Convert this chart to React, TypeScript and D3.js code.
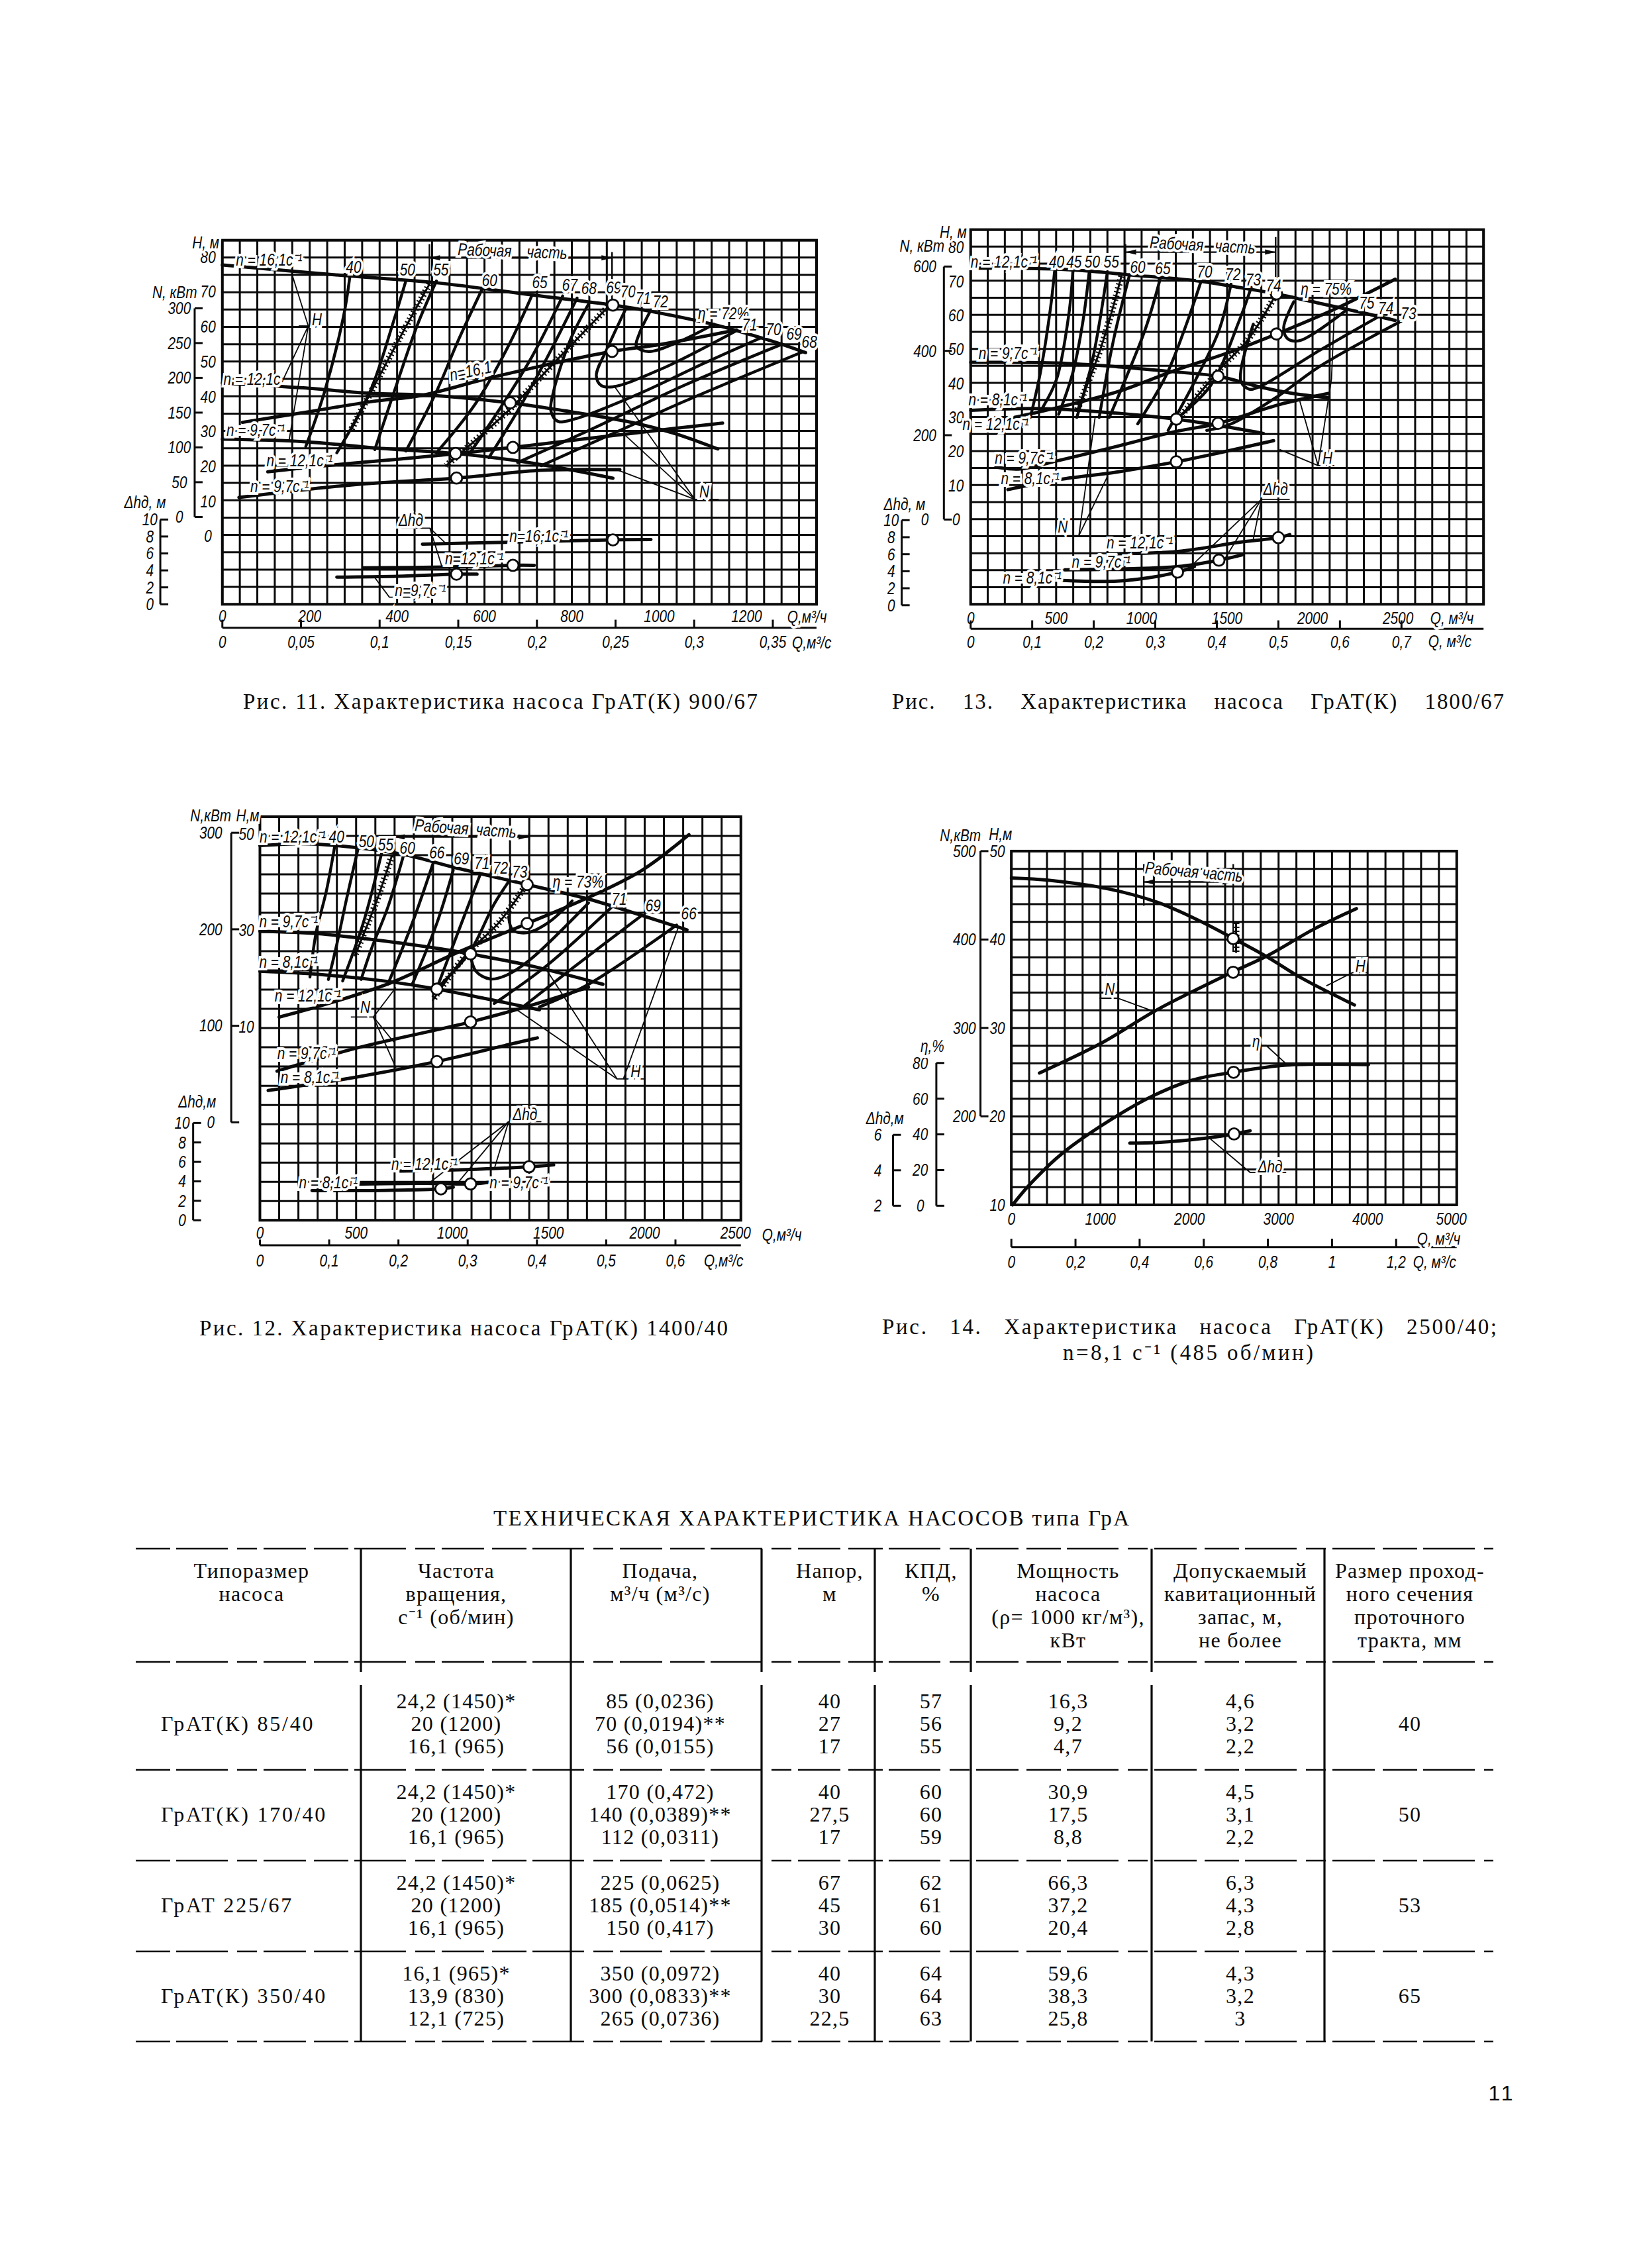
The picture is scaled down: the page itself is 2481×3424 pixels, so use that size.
import React from 'react';
import * as d3 from 'd3';

type Pt = [number, number];
type Lbl = [string, number, number, number?];

const INK = '#0a0a0a';
const CHART_FONT = '"Liberation Sans", sans-serif';
const BOOK_FONT = '"Liberation Serif", serif';

// ---- Рис. 11, ГрАТ(К) 900/67: Q м3/ч against H, N, Δh
const fig11Head: Pt[][] = [
  [[0, 77.7], [294, 74.5], [490, 72.6], [709, 69.1], [894, 66.2], [981, 64.4], [1123, 60.7], [1177, 58.9], [1275, 55.2], [1335, 52.6]],
  [[0, 43.9], [185, 42.5], [343, 40.9], [458, 40.5], [659, 38.2], [785, 35.9], [937, 32.6], [1036, 29.4], [1134, 25]],
  [[0, 27.8], [185, 27.1], [349, 25.3], [534, 23.7], [676, 21.6], [785, 19.3], [894, 16.6]],
];
const fig11Power: Pt[][] = [
  [[46, 136], [185, 150], [343, 166], [458, 175], [600, 198], [730, 217], [892, 238], [1003, 248], [1177, 269]],
  [[104, 65], [240, 74], [403, 83], [534, 91], [665, 100], [839, 113], [1003, 125], [1145, 135]],
  [[38, 28], [294, 46], [536, 56], [730, 67], [910, 68]],
];
const fig11Npsh: Pt[][] = [
  [[458, 7.1], [676, 7.35], [894, 7.6], [981, 7.65]],
  [[322, 4.3], [512, 4.4], [665, 4.6], [714, 4.6]],
  [[262, 3.2], [403, 3.3], [536, 3.55], [583, 3.55]],
];
const fig11Eta: Pt[][] = [
  [[292, 74.5], [278, 63.4], [234, 41.4], [191, 25.7]],
  [[420, 73.1], [392, 61.6], [338, 41.4], [262, 23.9]],
  [[490, 73.1], [447, 60.7], [403, 45], [349, 24.8]],
  [[600, 72.2], [540, 56.1], [490, 41.4], [420, 24.4]],
  [[709, 69.1], [654, 54.3], [578, 37.7], [490, 23.9]],
  [[779, 68.8], [709, 51.5], [632, 35.9], [567, 23.9]],
  [[812, 68.2], [741, 50.6], [676, 35.9], [610, 22.5]],
  [[839, 66.7], [796, 56.1], [758, 41.4], [752, 35.9], [768, 32.9], [807, 33.6], [948, 40.5], [1112, 50.1], [1232, 56.8]],
  [[924, 65.3], [883, 54.3], [856, 46], [867, 43.2], [894, 42.8], [1003, 47.8], [1177, 58.9]],
  [[981, 64.8], [954, 57.9], [948, 54.3], [976, 52.9], [1036, 55.2], [1125, 60.7]],
  [[1281, 55], [1057, 43.2], [839, 30.3], [676, 21.1]],
  [[1330, 52.9], [1057, 38.6], [894, 29.4], [730, 20.2]],
];
const fig11Limits: Pt[][] = [
  [[474, 72.2], [403, 56.1], [294, 30.3]],
  [[883, 65.7], [752, 48.7], [654, 35.9], [512, 20.2]],
];
const fig11Duty = {
  head: [[894, 66.2], [659, 38.2], [534, 23.7]] as Pt[],
  power: [[892, 238], [665, 100], [536, 56]] as Pt[],
  npsh: [[894, 7.6], [665, 4.6], [536, 3.55]] as Pt[],
};
const fig11Labels: Lbl[] = [
  ['n = 16,1с⁻¹', 328, 148], ['40', 505, 172], ['50', 618, 180], ['55', 688, 180], ['60', 790, 212], ['65', 895, 220],
  ['67', 958, 228], ['68', 998, 238], ['69', 1050, 235], ['70', 1080, 248], ['71', 1112, 268], ['72', 1148, 278],
  ['η = 72%', 1280, 315], ['71', 1335, 352], ['70', 1385, 365], ['69', 1428, 380], ['68', 1460, 405], ['H', 428, 335],
  ['n = 12,1с', 292, 520], ['n=16,1', 750, 495, -12], ['n = 9,7с⁻¹', 300, 680], ['n = 12,1с⁻¹', 392, 775], ['n = 9,7с⁻¹', 350, 855],
  ['N', 1240, 870], ['Δhд', 625, 960], ['n=16,1с⁻¹', 893, 1010], ['n=12,1с⁻¹', 758, 1080], ['n=9,7с⁻¹', 645, 1178],
  ['H, м', 195, 95], ['N, кВт', 130, 250], ['Δhд, м', 68, 905], ['Рабочая    часть', 838, 122, 2],
  ['Q,м³/ч', 1455, 1260], ['Q,м³/с', 1465, 1342],
];
const fig11Leaders: Pt[][] = [
  [[375, 190], [410, 355], [370, 710]], [[390, 355], [410, 355]], [[410, 355], [355, 530]],
  [[1270, 895], [1220, 895], [1050, 540]], [[1220, 895], [1070, 690]], [[1220, 895], [1060, 805]],
  [[605, 985], [665, 985], [700, 1035]], [[665, 985], [690, 1105]], [[550, 1140], [580, 1200], [670, 1200]],
];

// ---- Рис. 13, ГрАТ(К) 1800/67
const fig13Head: Pt[][] = [
  [[0, 73.9], [503, 73.6], [716, 72.9], [906, 72], [1333, 70.1], [1570, 68.2], [1789, 66.3], [2045, 63.5], [2282, 60.9], [2483, 58.5]],
  [[0, 46.2], [503, 46], [859, 44.9], [1191, 43.4], [1447, 42.1], [1689, 39], [1879, 37.1], [2092, 35.8]],
  [[0, 32.1], [384, 32.6], [740, 31.7], [1203, 29.5], [1452, 27.6], [1713, 25.3]],
];
const fig13Power: Pt[][] = [
  [[254, 242], [503, 265], [859, 303], [1191, 353], [1523, 398], [1789, 440], [2140, 501], [2483, 570]],
  [[147, 124], [289, 120], [503, 139], [859, 174], [1191, 208], [1447, 228], [1808, 273], [2092, 299]],
  [[218, 71], [503, 94], [859, 113], [1203, 137], [1452, 158], [1772, 187]],
];
const fig13Npsh: Pt[][] = [
  [[859, 6.06], [1214, 6.33], [1570, 7.39], [1800, 7.95], [1867, 8.3]],
  [[550, 4.17], [906, 4.28], [1214, 4.55], [1452, 5.3], [1594, 5.95]],
  [[538, 2.92], [859, 2.84], [1096, 3.41], [1210, 3.9], [1309, 4.55]],
];
const fig13Eta: Pt[][] = [
  [[491, 72.9], [467, 62.1], [408, 43.2], [349, 30]],
  [[598, 72.9], [574, 60.2], [503, 41.3], [420, 32.8]],
  [[693, 72.5], [657, 58.3], [598, 43.2], [515, 30.9]],
  [[799, 72.5], [752, 57.4], [705, 45.1], [621, 30]],
  [[930, 72], [835, 52.6], [752, 30]],
  [[1108, 70.6], [1025, 56.4], [906, 41.3], [811, 30]],
  [[1345, 69.6], [1262, 57.4], [1143, 42.3], [977, 28.1]],
  [[1523, 69.2], [1452, 55.5], [1309, 40.4], [1155, 26.2]],
  [[1641, 68.2], [1570, 58.3], [1404, 39.4], [1214, 30]],
  [[1890, 64], [1831, 56.4], [1855, 53.1], [1926, 52.6], [2199, 61.6]],
  [[1653, 57.4], [1582, 44.2], [1582, 40.4], [1630, 38.3], [1689, 39], [2045, 49.8], [2389, 59.7]],
  [[2519, 58.3], [2045, 45.1], [1808, 36.6], [1523, 28.1], [1381, 26.2]],
];
const fig13Limits: Pt[][] = [
  [[882, 71.5], [764, 50.8], [621, 31.9]],
  [[1772, 64.9], [1618, 52.6], [1475, 45.1], [1238, 30.9]],
];
const fig13Duty = {
  head: [[1789, 66.3], [1447, 42.1], [1203, 29.5]] as Pt[],
  power: [[1789, 440], [1447, 228], [1203, 137]] as Pt[],
  npsh: [[1800, 7.95], [1452, 5.3], [1210, 3.9]] as Pt[],
};
const fig13Labels: Lbl[] = [
  ['H, м', 195, 62], ['N, кВт', 118, 105], ['n = 12,1с⁻¹', 320, 155], ['40', 450, 155], ['45', 493, 155], ['50', 538, 155], ['55', 585, 155],
  ['60', 650, 172], ['65', 712, 175], ['70', 815, 185], ['72', 885, 195], ['73', 935, 210], ['74', 985, 230], ['η = 75%', 1115, 240],
  ['75', 1215, 282], ['74', 1262, 300], ['73', 1318, 315], ['n = 9,7с⁻¹', 330, 440], ['n = 8,1с⁻¹', 305, 585], ['n = 12,1с⁻¹', 300, 660],
  ['n = 9,7с⁻¹', 370, 765], ['n = 8,1с⁻¹', 385, 830], ['N', 465, 980], ['H', 1118, 765], ['Δhд', 990, 862], ['n = 12,1с⁻¹', 655, 1030],
  ['n = 9,7с⁻¹', 560, 1090], ['n = 8,1с⁻¹', 390, 1140], ['Δhд, м', 75, 910], ['Рабочая   часть', 810, 103, 3],
  ['Q, м³/ч', 1425, 1265], ['Q, м³/с', 1420, 1338],
];
const fig13Leaders: Pt[][] = [
  [[1135, 790], [1095, 790], [1128, 520], [1135, 310]], [[1095, 790], [1050, 590]], [[1095, 790], [1000, 740]],
  [[450, 1008], [505, 1008], [545, 640]], [[505, 1008], [575, 825]],
  [[1025, 895], [955, 895], [780, 1105]], [[955, 895], [865, 1080]], [[955, 895], [935, 1020]],
];

// ---- Рис. 12, ГрАТ(К) 1400/40
const fig12Head: Pt[][] = [
  [[0, 47.6], [217, 48], [398, 47.6], [739, 45.8], [1027, 42.9], [1389, 39.5], [1708, 36.5], [1985, 33.1], [2220, 30.1]],
  [[0, 29.8], [302, 29.3], [643, 27.8], [1027, 25.6], [1095, 25.1], [1389, 22.8], [1783, 18.8]],
  [[0, 21.5], [324, 20.8], [643, 19.5], [920, 17.8], [1176, 15.8], [1453, 13.5]],
];
const fig12Power: Pt[][] = [
  [[100, 109], [388, 125], [686, 145], [1027, 176], [1389, 206], [1708, 233], [1985, 261], [2230, 298]],
  [[89, 53], [494, 76.5], [1095, 104], [1389, 120], [1708, 140]],
  [[43, 33], [494, 46.6], [920, 63], [1282, 80], [1442, 87.5]],
];
const fig12Npsh: Pt[][] = [
  [[728, 5.05], [1069, 5.2], [1399, 5.5], [1527, 5.7]],
  [[473, 3.7], [856, 3.8], [1095, 3.73], [1186, 3.9]],
  [[271, 3.04], [643, 3.07], [941, 3.23], [1005, 3.4]],
];
const fig12Eta: Pt[][] = [
  [[388, 47.3], [345, 38.1], [292, 29.5], [260, 20.3]],
  [[509, 46.8], [452, 36.8], [398, 26.8], [356, 19.8]],
  [[633, 46.1], [537, 31.5], [430, 19.5]],
  [[746, 45.5], [665, 34.8], [579, 26.1], [526, 19.8]],
  [[899, 43.8], [792, 31.5], [665, 18.8]],
  [[1005, 42.5], [920, 31.5], [792, 18.8]],
  [[1144, 41.5], [1048, 31.5], [920, 18]],
  [[1293, 40.1], [1218, 35.5], [1091, 25.5], [941, 18.8]],
  [[1293, 32.8], [1314, 30.1], [1389, 29.5], [1495, 31.5], [1623, 36.1]],
  [[1095, 24.8], [1123, 21.5], [1197, 19.9], [1282, 20.7], [1410, 24.1], [1708, 35.7]],
  [[1836, 35.1], [1495, 22.8], [1218, 14.8]],
  [[1985, 33.1], [1623, 22.1], [1367, 14.1]],
  [[2166, 31.1], [1708, 18.8], [1453, 14.1]],
];
const fig12Limits: Pt[][] = [
  [[686, 45.5], [601, 35.5], [494, 24.8]],
  [[1378, 39.1], [1240, 31.5], [1069, 24.8], [899, 15.5]],
];
const fig12Duty = {
  head: [[1389, 39.5], [1095, 25.1], [920, 17.8]] as Pt[],
  power: [[1389, 206], [1095, 104], [920, 63]] as Pt[],
  npsh: [[1399, 5.5], [1095, 3.73], [941, 3.23]] as Pt[],
};
const fig12Labels: Lbl[] = [
  ['N,кВт', 78, 65], ['H,м', 168, 65], ['n = 12,1с⁻¹', 278, 130], ['40', 385, 130], ['50', 458, 145], ['55', 505, 155], ['60', 558, 165],
  ['66', 630, 180], ['69', 690, 198], ['71', 740, 212], ['72', 785, 228], ['73', 832, 240], ['η = 73%', 975, 270], ['71', 1075, 325],
  ['69', 1158, 345], ['66', 1245, 370], ['n = 9,7с⁻¹', 268, 395], ['n = 8,1с⁻¹', 268, 520], ['n = 12,1с⁻¹', 315, 625], ['N', 455, 660],
  ['n = 9,7с⁻¹', 312, 805], ['n = 8,1с⁻¹', 320, 880], ['H', 1115, 860], ['Δhд', 845, 995], ['n = 12,1с⁻¹', 600, 1150], ['n = 8,1с⁻¹', 365, 1207],
  ['n = 9,7с⁻¹', 830, 1207], ['Δhд,м', 45, 955], ['Рабочая  часть', 700, 105, 4],
  ['Q,м³/ч', 1472, 1370], ['Q,м³/с', 1330, 1450],
];
const fig12Leaders: Pt[][] = [
  [[1135, 885], [1070, 885], [895, 540]], [[1070, 885], [820, 665]], [[1085, 885], [1220, 410]],
  [[420, 692], [475, 692], [530, 600]], [[475, 692], [530, 850]], [[475, 692], [525, 770]],
  [[885, 1018], [805, 1018], [610, 1210]], [[805, 1018], [680, 1210]], [[805, 1018], [770, 1165]],
];

// ---- Рис. 14, ГрАТ(К) 2500/40, n = 8,1
const fig14Head: Pt[][] = [
  [[0, 46.96], [428, 46.7], [1104, 45.7], [1644, 44.2], [2095, 42.2], [2478, 40.2], [2861, 38.1], [3266, 35.6], [3852, 32.6]],
];
const fig14Power: Pt[][] = [
  [[315, 249], [1014, 283], [1644, 321], [2478, 363], [2861, 381], [3401, 412], [3874, 435]],
];
const fig14Eff: Pt[][] = [
  [[14, 0.5], [203, 11.7], [563, 29], [1194, 50.6], [1599, 61.8], [2036, 70.5], [2491, 74.8], [3086, 78.8], [4010, 79.1]],
];
const fig14Npsh: Pt[][] = [
  [[1329, 5.53], [1644, 5.57], [2230, 5.84], [2500, 6.05], [2680, 6.23]],
];
const fig14Limits: Pt[][] = [[[2523, 41.9], [2523, 38.6]]];
const fig14Duty = {
  head: [[2490, 40.1]] as Pt[],
  power: [[2490, 363]] as Pt[],
  eff: [[2495, 74.8]] as Pt[],
  npsh: [[2500, 6.05]] as Pt[],
};
const fig14Labels: Lbl[] = [
  ['N,кВт', 248, 68], ['H,м', 348, 62], ['η,%', 178, 750], ['Δhд,м', 60, 985], ['N', 620, 565], ['H', 1245, 490], ['η', 985, 735],
  ['Δhд', 1020, 1140], ['Рабочая часть', 830, 185, 5], ['Q, м³/ч', 1440, 1375], ['Q, м³/с', 1430, 1450],
];
const fig14Leaders: Pt[][] = [
  [[595, 595], [640, 595], [735, 640]], [[1262, 512], [1225, 512], [1160, 555]],
  [[965, 748], [1010, 748], [1060, 808]], [[1060, 1160], [970, 1160], [870, 1050]],
];

const fmt = (v: number) => String(v).replace('.', ',');

interface YAxis { domain: Pt; range: Pt; ticks: number[]; labelZ: number; lineZ?: number; }
interface Fig {
  crop: [number, number, number, number];
  plot: [number, number, number, number];
  cols: number; rows: number; qMax: number;
  head: YAxis; power: YAxis; npsh: YAxis; eff?: YAxis;
  headCurves: Pt[][]; powerCurves: Pt[][]; npshCurves: Pt[][]; effCurves?: Pt[][];
  contours: Pt[][]; limits: Pt[][]; duty: Record<string, Pt[]>;
  labels: Lbl[]; leaders: Pt[][];
  qTicks: number[]; sTicks: number[];
  xLabelZ: number; xLineZ: number; xTickZ: number; sLabelZ: number;
  work: { q: Pt; y: number; bars: Pt[] };
}

const figures: Fig[] = [
  {
    crop: [170, 320, 1130, 760], plot: [230, 1475, 88, 1222], cols: 34, rows: 21, qMax: 1360,
    head: { domain: [0, 80], range: [1010, 140], ticks: d3.range(0, 81, 10), labelZ: 200 },
    power: { domain: [0, 300], range: [950, 300], ticks: d3.range(0, 301, 50), labelZ: 140, lineZ: 172 },
    npsh: { domain: [0, 10], range: [1222, 958], ticks: d3.range(0, 11, 2), labelZ: 78, lineZ: 100 },
    headCurves: fig11Head, powerCurves: fig11Power, npshCurves: fig11Npsh,
    contours: fig11Eta, limits: fig11Limits, duty: fig11Duty, labels: fig11Labels, leaders: fig11Leaders,
    qTicks: [0, 200, 400, 600, 800, 1000, 1200], sTicks: [0, 0.05, 0.1, 0.15, 0.2, 0.25, 0.3, 0.35],
    xLabelZ: 1258, xLineZ: 1295, xTickZ: 1270, sLabelZ: 1340,
    work: { q: [474, 892], y: 143, bars: [[100, 230], [125, 285]] },
  },
  {
    crop: [1320, 320, 960, 760], plot: [238, 1503, 55, 1222], cols: 30, rows: 22, qMax: 3000,
    head: { domain: [0, 80], range: [958, 110], ticks: d3.range(0, 81, 10), labelZ: 202 },
    power: { domain: [0, 600], range: [958, 170], ticks: [0, 200, 400, 600], labelZ: 125, lineZ: 172 },
    npsh: { domain: [0, 10], range: [1225, 960], ticks: d3.range(0, 11, 2), labelZ: 42, lineZ: 68 },
    headCurves: fig13Head, powerCurves: fig13Power, npshCurves: fig13Npsh,
    contours: fig13Eta, limits: fig13Limits, duty: fig13Duty, labels: fig13Labels, leaders: fig13Leaders,
    qTicks: [0, 500, 1000, 1500, 2000, 2500], sTicks: [0, 0.1, 0.2, 0.3, 0.4, 0.5, 0.6, 0.7],
    xLabelZ: 1265, xLineZ: 1298, xTickZ: 1272, sLabelZ: 1340,
    work: { q: [906, 1784], y: 125, bars: [[100, 190], [78, 250]] },
  },
  {
    crop: [270, 1200, 970, 760], plot: [198, 1372, 68, 1325], cols: 25, rows: 21, qMax: 2500,
    head: { domain: [10, 50], range: [722, 122], ticks: [10, 30, 50], labelZ: 165 },
    power: { domain: [0, 300], range: [1020, 118], ticks: [0, 100, 200, 300], labelZ: 78, lineZ: 128 },
    npsh: { domain: [0, 10], range: [1325, 1022], ticks: d3.range(0, 11, 2), labelZ: 8, lineZ: 35 },
    headCurves: fig12Head, powerCurves: fig12Power, npshCurves: fig12Npsh,
    contours: fig12Eta, limits: fig12Limits, duty: fig12Duty, labels: fig12Labels, leaders: fig12Leaders,
    qTicks: [0, 500, 1000, 1500, 2000, 2500], sTicks: [0, 0.1, 0.2, 0.3, 0.4, 0.5, 0.6],
    xLabelZ: 1365, xLineZ: 1403, xTickZ: 1385, sLabelZ: 1450,
    work: { q: [697, 1399], y: 131, bars: [[125, 150], [120, 280]] },
  },
  {
    crop: [1300, 1230, 950, 730], plot: [375, 1485, 118, 1265], cols: 25, rows: 20, qMax: 5000,
    head: { domain: [10, 50], range: [1265, 118], ticks: [10, 20, 30, 40, 50], labelZ: 340 },
    power: { domain: [200, 500], range: [978, 118], ticks: [200, 300, 400, 500], labelZ: 258, lineZ: 298 },
    eff: { domain: [0, 80], range: [1268, 805], ticks: [0, 20, 40, 60, 80], labelZ: 148, lineZ: 188 },
    npsh: { domain: [2, 6], range: [1268, 1038], ticks: [2, 4, 6], labelZ: 42, lineZ: 80 },
    headCurves: fig14Head, powerCurves: fig14Power, npshCurves: fig14Npsh, effCurves: fig14Eff,
    contours: [], limits: fig14Limits, duty: fig14Duty, labels: fig14Labels, leaders: fig14Leaders,
    qTicks: [0, 1000, 2000, 3000, 4000, 5000], sTicks: [0, 0.2, 0.4, 0.6, 0.8, 1, 1.2],
    xLabelZ: 1310, xLineZ: 1402, xTickZ: 1375, sLabelZ: 1450,
    work: { q: [1487, 2491], y: 218, bars: [[160, 295], [160, 445]] },
  },
];

// the book's chart lettering is narrow, squeeze the italic to match
function ChartText({ x, y, children, rotate = 0, size = 26 }: any) {
  return (
    <text textAnchor="middle" dominantBaseline="central" fontFamily={CHART_FONT} fontStyle="italic"
      fontSize={size} fill={INK} stroke="#fff" strokeWidth={8} paintOrder="stroke"
      style={{ whiteSpace: 'pre' }} transform={`translate(${x} ${y}) rotate(${rotate}) scale(0.8 1)`}>
      {children}
    </text>
  );
}

function PumpChart({ fig }: { fig: Fig }) {
  const [cx, cy, cw, ch] = fig.crop;
  const zx = (z: number) => cx + (z * cw) / 1568;
  const zy = (z: number) => cy + (z * ch) / 1568;
  const [l, r, t, b] = fig.plot;
  const xScale = d3.scaleLinear().domain([0, fig.qMax]).range([zx(l), zx(r)]);
  const colScale = d3.scaleLinear().domain([0, fig.cols]).range([zx(l), zx(r)]);
  const rowScale = d3.scaleLinear().domain([0, fig.rows]).range([zy(t), zy(b)]);
  const mk = (a: YAxis) => d3.scaleLinear().domain(a.domain).range([zy(a.range[0]), zy(a.range[1])]);
  const yHead = mk(fig.head);
  const yPower = mk(fig.power);
  const yNpsh = mk(fig.npsh);
  const yEff = fig.eff ? mk(fig.eff) : yHead;
  const path = (y: d3.ScaleLinear<number, number>) =>
    d3.line<Pt>().x((d) => xScale(d[0])).y((d) => y(d[1])).curve(d3.curveCatmullRom.alpha(0.5));
  const leader = d3.line<Pt>().x((d) => zx(d[0])).y((d) => zy(d[1]));
  const yAxes: [YAxis, d3.ScaleLinear<number, number>][] = [[fig.head, yHead], [fig.power, yPower], [fig.npsh, yNpsh]];
  if (fig.eff) yAxes.push([fig.eff, yEff]);
  const dutyScale: Record<string, d3.ScaleLinear<number, number>> = { head: yHead, power: yPower, npsh: yNpsh, eff: yEff };

  return (
    <g>
      {/* grid */}
      <g stroke={INK} strokeWidth={3}>
        {d3.range(fig.cols + 1).map((i) => (
          <line key={i} x1={colScale(i)} x2={colScale(i)} y1={zy(t)} y2={zy(b)} />
        ))}
        {d3.range(fig.rows + 1).map((i) => (
          <line key={i} x1={zx(l)} x2={zx(r)} y1={rowScale(i)} y2={rowScale(i)} />
        ))}
      </g>
      <rect x={zx(l)} y={zy(t)} width={zx(r) - zx(l)} height={zy(b) - zy(t)} fill="none" stroke={INK} strokeWidth={4} />

      {/* leaders */}
      <g fill="none" stroke={INK} strokeWidth={1.8}>
        {fig.leaders.map((d, i) => <path key={i} d={leader(d) as string} />)}
      </g>

      {/* working range */}
      <g stroke={INK}>
        <line x1={xScale(fig.work.q[0])} x2={xScale(fig.work.q[1])} y1={zy(fig.work.y)} y2={zy(fig.work.y)} strokeWidth={2.4} markerStart="url(#arrowL)" markerEnd="url(#arrowR)" />
        {fig.work.bars.map((bar, i) => (
          <line key={i} x1={xScale(fig.work.q[i])} x2={xScale(fig.work.q[i])} y1={zy(bar[0])} y2={zy(bar[1])} strokeWidth={2.4} />
        ))}
      </g>

      {/* efficiency contours and limits of the working part */}
      <g fill="none" stroke={INK} strokeLinecap="round">
        {fig.contours.map((d, i) => <path key={i} d={path(yHead)(d) as string} strokeWidth={4.4} />)}
        {fig.limits.map((d, i) => (
          <g key={i}>
            <path d={path(yHead)(d) as string} strokeWidth={3} />
            <path d={path(yHead)(d) as string} strokeWidth={10} strokeLinecap="butt" strokeDasharray="2 4" />
          </g>
        ))}
      </g>

      {/* head, power, cavitation, efficiency */}
      <g fill="none" stroke={INK} strokeWidth={5} strokeLinecap="round">
        {fig.headCurves.map((d, i) => <path key={i} d={path(yHead)(d) as string} />)}
        {fig.powerCurves.map((d, i) => <path key={i} d={path(yPower)(d) as string} />)}
        {fig.npshCurves.map((d, i) => <path key={i} d={path(yNpsh)(d) as string} />)}
        {(fig.effCurves || []).map((d, i) => <path key={i} d={path(yEff)(d) as string} />)}
      </g>

      {/* duty points */}
      <g fill="#fff" stroke={INK} strokeWidth={2.8}>
        {Object.entries(fig.duty).flatMap(([k, pts]) =>
          pts.map((d, i) => <circle key={k + i} cx={xScale(d[0])} cy={dutyScale[k](d[1])} r={8.5} />),
        )}
      </g>

      {/* vertical scales */}
      {yAxes.map(([a, s], i) => (
        <g key={i}>
          {a.lineZ !== undefined && (
            <g stroke={INK} strokeWidth={3}>
              <line x1={zx(a.lineZ)} x2={zx(a.lineZ)} y1={s(a.ticks[0])} y2={s(a.ticks[a.ticks.length - 1])} />
              {a.ticks.map((v) => (
                <line key={v} x1={zx(a.lineZ as number)} x2={zx(a.lineZ as number) + 12} y1={s(v)} y2={s(v)} />
              ))}
            </g>
          )}
          {a.ticks.map((v) => <ChartText key={v} x={zx(a.labelZ)} y={s(v)}>{v}</ChartText>)}
        </g>
      ))}

      {/* Q scales */}
      {fig.qTicks.map((v) => <ChartText key={v} x={xScale(v) - (v === fig.qMax ? 8 : 0)} y={zy(fig.xLabelZ)}>{v}</ChartText>)}
      <line x1={zx(l)} x2={zx(r)} y1={zy(fig.xLineZ)} y2={zy(fig.xLineZ)} stroke={INK} strokeWidth={3} />
      {fig.sTicks.map((v) => (
        <g key={v}>
          <line x1={xScale(v * 3600)} x2={xScale(v * 3600)} y1={zy(fig.xLineZ)} y2={zy(fig.xTickZ)} stroke={INK} strokeWidth={3} />
          <ChartText x={xScale(v * 3600)} y={zy(fig.sLabelZ)}>{fmt(v)}</ChartText>
        </g>
      ))}

      {fig.labels.map(([s, x, y, rot], i) => (
        <ChartText key={i} x={zx(x)} y={zy(y)} rotate={rot || 0}>{s}</ChartText>
      ))}
    </g>
  );
}

// ---- table
const tableTitle = 'ТЕХНИЧЕСКАЯ ХАРАКТЕРИСТИКА НАСОСОВ типа ГрА';
const pumpNames = ['ГрАТ(К) 85/40', 'ГрАТ(К) 170/40', 'ГрАТ 225/67', 'ГрАТ(К) 350/40'];
const speedCol = [
  '24,2 (1450)*', '20 (1200)', '16,1 (965)', '24,2 (1450)*', '20 (1200)', '16,1 (965)',
  '24,2 (1450)*', '20 (1200)', '16,1 (965)', '16,1 (965)*', '13,9 (830)', '12,1 (725)',
];
const flowCol = [
  '85 (0,0236)', '70 (0,0194)**', '56 (0,0155)', '170 (0,472)', '140 (0,0389)**', '112 (0,0311)',
  '225 (0,0625)', '185 (0,0514)**', '150 (0,417)', '350 (0,0972)', '300 (0,0833)**', '265 (0,0736)',
];
const headCol = ['40', '27', '17', '40', '27,5', '17', '67', '45', '30', '40', '30', '22,5'];
const effCol = ['57', '56', '55', '60', '60', '59', '62', '61', '60', '64', '64', '63'];
const powerCol = ['16,3', '9,2', '4,7', '30,9', '17,5', '8,8', '66,3', '37,2', '20,4', '59,6', '38,3', '25,8'];
const npshCol = ['4,6', '3,2', '2,2', '4,5', '3,1', '2,2', '6,3', '4,3', '2,8', '4,3', '3,2', '3'];
const passageCol = ['40', '50', '53', '65'];
const headerCells = [
  ['Типоразмер', 'насоса'],
  ['Частота', 'вращения,', 'с⁻¹ (об/мин)'],
  ['Подача,', 'м³/ч (м³/с)'],
  ['Напор,', 'м'],
  ['КПД,', '%'],
  ['Мощность', 'насоса', '(ρ= 1000 кг/м³),', 'кВт'],
  ['Допускаемый', 'кавитационный', 'запас, м,', 'не более'],
  ['Размер проход-', 'ного сечения', 'проточного', 'тракта, мм'],
];
const captions: [string, number, number, number][] = [
  ['Рис. 11. Характеристика насоса ГрАТ(К) 900/67', 367, 1144, 1059],
  ['Рис.    13.    Характеристика    насоса    ГрАТ(К)    1800/67', 1347, 2271, 1059],
  ['Рис. 12. Характеристика насоса ГрАТ(К) 1400/40', 301, 1099, 2005],
  ['Рис.   14.   Характеристика   насоса   ГрАТ(К)   2500/40;', 1332, 2260, 2003],
  ['n=8,1 с⁻¹ (485 об/мин)', 1605, 1983, 2042],
];

const colLines = [545, 862, 1150, 1321, 1466, 1739, 2000];
const gappedCols = [545, 1150, 1321, 1466, 1739];
const colCenters = [380, 689, 997, 1253, 1406, 1613, 1873, 2129];
const ruleY = [2338, 2509, 2672, 2809, 2946, 3082];
const blockY = [2602, 2739, 2876, 3013];
const lineGap = 34;

function BookText({ x, y, children, anchor = 'middle', size = 32, length, spacing = 1.3 }: any) {
  return (
    <text x={x} y={y} textAnchor={anchor} dominantBaseline="central" fontFamily={BOOK_FONT} fontSize={size} fill={INK}
      textLength={length} lengthAdjust={length ? 'spacing' : undefined} letterSpacing={length ? undefined : spacing}
      style={{ whiteSpace: 'pre' }}>
      {children}
    </text>
  );
}

function SpecTable() {
  const cols = [speedCol, flowCol, headCol, effCol, powerCol, npshCol];
  return (
    <g>
      <BookText x={745} y={2292} anchor="start" size={33} length={960}>{tableTitle}</BookText>
      {ruleY.map((y) => (
        <line key={y} x1={205} x2={2255} y1={y} y2={y} stroke={INK} strokeWidth={2.6} strokeDasharray="52 9 78 14 30 10 64 12" />
      ))}
      {colLines.map((x) => (
        <line key={x} x1={x} x2={x} y1={ruleY[0]} y2={ruleY[5]} stroke={INK} strokeWidth={3.2} />
      ))}
      {gappedCols.map((x) => (
        <line key={x} x1={x} x2={x} y1={2524} y2={2544} stroke="#fff" strokeWidth={6} />
      ))}
      {headerCells.map((cell, i) =>
        cell.map((s, j) => <BookText key={i + '-' + j} x={colCenters[i]} y={2371 + j * 35}>{s}</BookText>),
      )}
      {pumpNames.map((s, i) => <BookText key={s} x={243} y={blockY[i]} anchor="start" spacing={2.8}>{s}</BookText>)}
      {cols.map((col, c) =>
        col.map((s, i) => (
          <BookText key={c + '-' + i} x={colCenters[c + 1]} y={blockY[Math.floor(i / 3)] + ((i % 3) - 1) * lineGap}>{s}</BookText>
        )),
      )}
      {passageCol.map((s, i) => <BookText key={i} x={colCenters[7]} y={blockY[i]}>{s}</BookText>)}
    </g>
  );
}

export default function App() {
  return (
    <svg width={2481} height={3424} style={{ position: 'absolute', left: 0, top: 0, background: '#fff' }}>
      <defs>
        <marker id="arrowR" markerWidth="18" markerHeight="10" refX="16" refY="5" orient="auto" markerUnits="userSpaceOnUse">
          <path d="M0,1 L16,5 L0,9 Z" fill={INK} />
        </marker>
        <marker id="arrowL" markerWidth="18" markerHeight="10" refX="0" refY="5" orient="auto" markerUnits="userSpaceOnUse">
          <path d="M16,1 L0,5 L16,9 Z" fill={INK} />
        </marker>
      </defs>
      {figures.map((fig, i) => <PumpChart key={i} fig={fig} />)}
      {captions.map(([s, x1, x2, y], i) => (
        <BookText key={i} x={x1} y={y} anchor="start" size={33} length={x2 - x1}>{s}</BookText>
      ))}
      <SpecTable />
      <text x={2268} y={3160} textAnchor="middle" dominantBaseline="central" fontFamily='"Liberation Sans", sans-serif' fontSize={32} fill={INK} letterSpacing={4}>11</text>
    </svg>
  );
}
